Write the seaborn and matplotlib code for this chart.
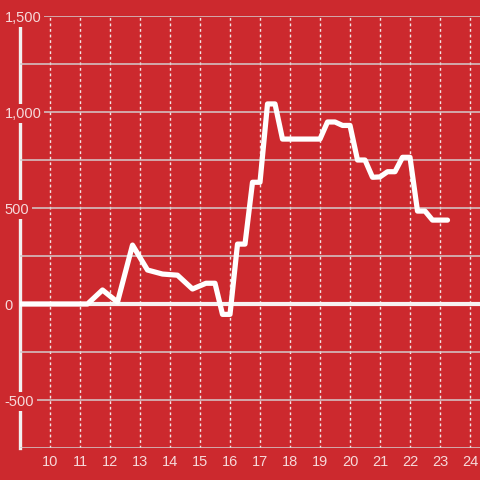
import matplotlib
matplotlib.use("Agg")
import matplotlib.pyplot as plt
import seaborn as sns
import pandas as pd

# data
hours = [9.0, 11.25, 11.75, 12.25, 12.75, 13.25, 13.75, 14.25, 14.75, 15.2,
         15.5, 15.75, 16.0, 16.25, 16.5, 16.75, 17.0, 17.25, 17.5, 17.75,
         19.0, 19.25, 19.5, 19.75, 20.0, 20.25, 20.5, 20.75, 21.0, 21.25,
         21.5, 21.75, 22.0, 22.25, 22.5, 22.75, 23.25]
values = [0, 0, 73, 10, 307, 177, 156, 150, 78, 108,
          108, -54, -54, 312, 312, 634, 634, 1042, 1042, 859,
          859, 948, 948, 930, 930, 750, 750, 660, 662, 689,
          689, 764, 764, 484, 484, 437, 437]
x_ticks = list(range(10, 25))
y_ticks = [-750, -500, -250, 0, 250, 500, 750, 1000, 1250, 1500]
y_labels = ["", "-500", "", "0", "", "500", "", "1,000", "", "1,500"]

bg = "#cc292e"
txt = "#f6d9da"

df = pd.DataFrame({"hour": hours, "value": values})

sns.set_theme(style="white")
plt.rcParams["font.family"] = ["Liberation Sans", "DejaVu Sans"]

fig = plt.figure(figsize=(4.8, 4.8), dpi=100, facecolor=bg)
ax = fig.add_axes([20/480, 32/480, 460/480, 432/480])
ax.set_facecolor(bg)

sns.lineplot(data=df, x="hour", y="value", ax=ax, color="white",
             linewidth=3.75, zorder=4)
ax.axhline(0, color="#f7f2f2", linewidth=3, zorder=3.5)

ax.set_xlim(9, 9 + 460/30)
ax.set_ylim(-750, 1500)
ax.set_xticks(x_ticks)
ax.set_xticklabels([str(t) for t in x_ticks])
ax.set_yticks(y_ticks)
ax.set_yticklabels(y_labels)
ax.set_xlabel("")
ax.set_ylabel("")

ax.set_axisbelow(False)
ax.xaxis.set_zorder(2.2)
ax.yaxis.set_zorder(3)
ax.xaxis.grid(True, color="#f3e6e6", linestyle=(0, (2, 2)), linewidth=1)
ax.yaxis.grid(True, color="#d4cccc", linestyle="-", linewidth=1.1)

ax.tick_params(axis="x", length=0, pad=5, labelsize=10.5, labelcolor=txt)
ax.tick_params(axis="y", length=0, pad=11, labelsize=10.5, labelcolor=txt)
for lbl in ax.get_yticklabels():
    lbl.set_horizontalalignment("left")
    lbl.set_bbox(dict(facecolor=bg, edgecolor="none", pad=2))

for s in ["top", "right", "bottom"]:
    ax.spines[s].set_visible(False)
ax.spines["left"].set_color("#f2f0f0")
ax.spines["left"].set_linewidth(2.4)
ax.spines["left"].set_zorder(2.5)

fig.savefig("out.png", dpi=100, facecolor=bg)
